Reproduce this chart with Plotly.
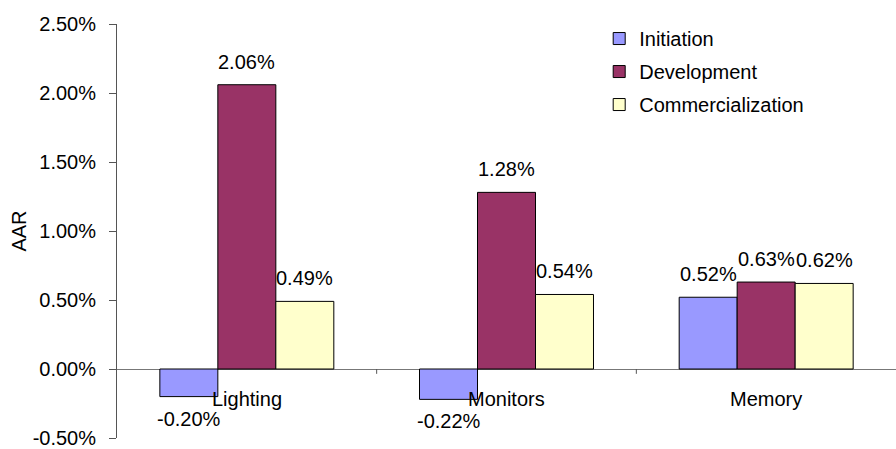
import plotly.graph_objects as go

categories = ["Lighting", "Monitors", "Memory"]
series_names = ["Initiation", "Development", "Commercialization"]
initiation = [-0.20, -0.22, 0.52]
development = [2.06, 1.28, 0.63]
commercialization = [0.49, 0.54, 0.62]
series_values = [initiation, development, commercialization]
colors = ["#9999FF", "#993366", "#FFFFCC"]

y_ticks = [-0.5, 0.0, 0.5, 1.0, 1.5, 2.0, 2.5]
y_tick_text = [f"{v:.2f}%" for v in y_ticks]

FONT = "Liberation Sans, Arial, sans-serif"
FS = 20
W, H = 896, 449
M = dict(l=117, r=0, t=24, b=11)
BARGAP = 0.33

fig = go.Figure()
for i, (name, vals, col) in enumerate(zip(series_names, series_values, colors)):
    fig.add_trace(go.Bar(
        name=name, x=categories, y=vals,
        marker=dict(color=col, line=dict(color="black", width=1)),
        legendgroup=name,
    ))

# data labels placed above positive bars and below negative ones
plot_w = W - M["l"] - M["r"]
group_px = plot_w / len(categories)
bar_px = group_px * (1 - BARGAP) / len(series_names)
for i, vals in enumerate(series_values):
    for cat, v in zip(categories, vals):
        fig.add_annotation(
            x=cat, y=v, text=f"{v:.2f}%", showarrow=False,
            xshift=(i - 1) * bar_px, yshift=23 if v >= 0 else -22,
            yanchor="middle", font=dict(family=FONT, size=FS, color="black"),
        )

# category labels sit just under the zero line
for cat in categories:
    fig.add_annotation(
        x=cat, y=0, text=cat, showarrow=False, yshift=-30, yanchor="middle",
        font=dict(family=FONT, size=FS, color="black"),
    )

# small tick marks between categories on the zero line
for b in [0.5, 1.5]:
    fig.add_shape(type="line", xref="x", yref="y", x0=b, x1=b, y0=0, y1=-0.035,
                  line=dict(color="#555555", width=1))

fig.update_layout(
    width=W, height=H, margin=M,
    paper_bgcolor="white", plot_bgcolor="white",
    barmode="group", bargap=BARGAP, bargroupgap=0,
    font=dict(family=FONT, size=FS, color="black"),
    showlegend=True,
    legend=dict(x=0.619, y=1.012, xanchor="left", yanchor="top",
                font=dict(family=FONT, size=FS, color="black"),
                tracegroupgap=4, bgcolor="rgba(0,0,0,0)", itemwidth=30),
    xaxis=dict(range=[-0.5, 2.5], showticklabels=False, showline=False,
               showgrid=False, ticks="", zeroline=False, automargin=False),
    yaxis=dict(range=[-0.5, 2.5], tickmode="array", tickvals=y_ticks,
               ticktext=y_tick_text, ticks="outside", ticklen=7,
               tickcolor="#555555", ticklabeloverflow="allow",
               automargin=False,
               showline=True, linecolor="#555555", linewidth=1,
               showgrid=False, zeroline=True, zerolinecolor="#777777",
               zerolinewidth=1, ticklabelstandoff=9,
               title=dict(text="AAR", standoff=0,
                          font=dict(family=FONT, size=FS, color="black"))),
)

fig.write_html("out.html")
